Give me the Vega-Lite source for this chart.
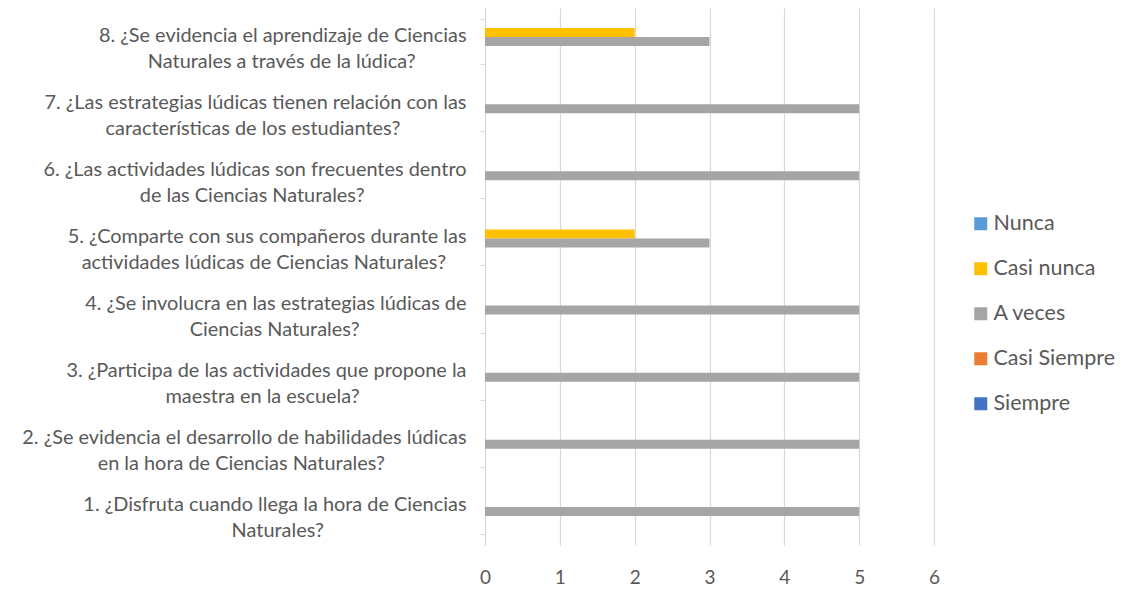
{
  "$schema": "https://vega.github.io/schema/vega-lite/v6.json",
  "width": 449,
  "height": 537,
  "autosize": "none",
  "padding": {"left": 485, "top": 8, "right": 201, "bottom": 65},
  "background": "white",
  "data": {
    "values": [
      {"q": "1. ¿Disfruta cuando llega la hora de Ciencias|Naturales?\u00a0\u00a0\u00a0\u00a0\u00a0\u00a0\u00a0\u00a0\u00a0\u00a0\u00a0\u00a0\u00a0\u00a0\u00a0\u00a0\u00a0\u00a0\u00a0\u00a0\u00a0\u00a0\u00a0\u00a0\u00a0\u00a0\u00a0\u00a0\u200b", "serie": "A veces", "valor": 5},
      {"q": "2. ¿Se evidencia el desarrollo de habilidades lúdicas|en la hora de Ciencias Naturales?\u00a0\u00a0\u00a0\u00a0\u00a0\u00a0\u00a0\u00a0\u00a0\u00a0\u00a0\u00a0\u00a0\u00a0\u00a0\u00a0\u200b", "serie": "A veces", "valor": 5},
      {"q": "3. ¿Participa de las actividades que propone la|maestra en la escuela?\u00a0\u00a0\u00a0\u00a0\u00a0\u00a0\u00a0\u00a0\u00a0\u00a0\u00a0\u00a0\u00a0\u00a0\u00a0\u00a0\u00a0\u00a0\u00a0\u00a0\u00a0\u200b", "serie": "A veces", "valor": 5},
      {"q": "4. ¿Se involucra en las estrategias lúdicas de|Ciencias Naturales?\u00a0\u00a0\u00a0\u00a0\u00a0\u00a0\u00a0\u00a0\u00a0\u00a0\u00a0\u00a0\u00a0\u00a0\u00a0\u00a0\u00a0\u00a0\u00a0\u00a0\u00a0\u200b", "serie": "A veces", "valor": 5},
      {"q": "5. ¿Comparte con sus compañeros durante las|actividades lúdicas de Ciencias Naturales?\u00a0\u00a0\u00a0\u00a0\u200b", "serie": "Casi nunca", "valor": 2},
      {"q": "5. ¿Comparte con sus compañeros durante las|actividades lúdicas de Ciencias Naturales?\u00a0\u00a0\u00a0\u00a0\u200b", "serie": "A veces", "valor": 3},
      {"q": "6. ¿Las actividades lúdicas son frecuentes dentro|de las Ciencias Naturales?\u00a0\u00a0\u00a0\u00a0\u00a0\u00a0\u00a0\u00a0\u00a0\u00a0\u00a0\u00a0\u00a0\u00a0\u00a0\u00a0\u00a0\u00a0\u00a0\u00a0\u200b", "serie": "A veces", "valor": 5},
      {"q": "7. ¿Las estrategias lúdicas tienen relación con las|características de los estudiantes?\u00a0\u00a0\u00a0\u00a0\u00a0\u00a0\u00a0\u00a0\u00a0\u00a0\u00a0\u00a0\u00a0\u200b", "serie": "A veces", "valor": 5},
      {"q": "8. ¿Se evidencia el aprendizaje de Ciencias|Naturales a través de la lúdica?\u00a0\u00a0\u00a0\u00a0\u00a0\u00a0\u00a0\u00a0\u00a0\u00a0\u200b", "serie": "Casi nunca", "valor": 2},
      {"q": "8. ¿Se evidencia el aprendizaje de Ciencias|Naturales a través de la lúdica?\u00a0\u00a0\u00a0\u00a0\u00a0\u00a0\u00a0\u00a0\u00a0\u00a0\u200b", "serie": "A veces", "valor": 3}
    ]
  },
  "mark": {"type": "bar"},
  "encoding": {
    "y": {
      "field": "q",
      "type": "nominal",
      "sort": "descending",
      "scale": {"paddingInner": 0.33, "paddingOuter": 0.165},
      "axis": {
        "title": null,
        "labelExpr": "split(datum.label, '|')",
        "labelFont": "Lato",
        "labelFontSize": 19.9,
        "labelColor": "#595959",
        "labelLineHeight": 26,
        "labelAlign": "right",
        "labelBaseline": "middle",
        "labelOffset": -6.5,
        "labelPadding": 14,
        "labelLimit": 600,
        "tickBand": "extent",
        "tickSize": 5,
        "tickColor": "#d9d9d9",
        "domainColor": "#d9d9d9",
        "grid": false
      }
    },
    "yOffset": {
      "field": "serie",
      "type": "nominal",
      "scale": {"domain": ["Nunca", "Casi nunca", "A veces", "Casi Siempre", "Siempre"], "paddingInner": 0, "paddingOuter": 0}
    },
    "x": {
      "field": "valor",
      "type": "quantitative",
      "scale": {"domain": [0, 6], "nice": false},
      "axis": {
        "title": null,
        "values": [0, 1, 2, 3, 4, 5, 6],
        "domain": false,
        "ticks": false,
        "grid": true,
        "gridColor": "#d9d9d9",
        "gridWidth": 1.2,
        "labelFlush": false,
        "labelFont": "Lato",
        "labelFontSize": 19,
        "labelColor": "#595959",
        "labelPadding": 23
      }
    },
    "color": {
      "field": "serie",
      "type": "nominal",
      "scale": {
        "domain": ["Nunca", "Casi nunca", "A veces", "Casi Siempre", "Siempre"],
        "range": ["#5B9BD5", "#FFC000", "#A5A5A5", "#ED7D31", "#4472C4"]
      },
      "legend": {
        "title": null,
        "orient": "none",
        "legendX": 485,
        "legendY": 205,
        "symbolType": "square",
        "symbolSize": 169,
        "symbolStrokeWidth": 0,
        "labelFont": "Lato",
        "labelFontSize": 21.5,
        "labelColor": "#595959",
        "labelOffset": 2,
        "rowPadding": 22
      }
    }
  },
  "config": {"view": {"stroke": null}}
}
